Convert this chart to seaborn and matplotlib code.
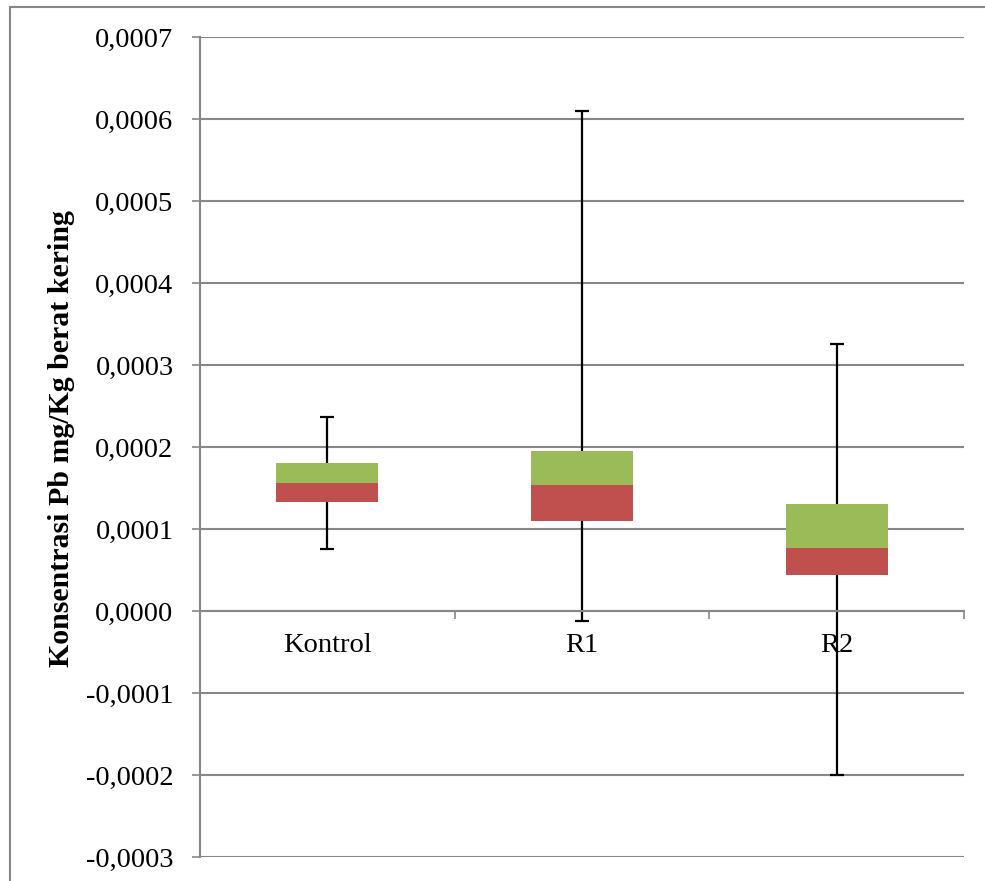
import matplotlib
matplotlib.use("Agg")
import matplotlib.pyplot as plt
from matplotlib.ticker import FuncFormatter, MultipleLocator, FixedLocator
from matplotlib.patches import Rectangle
import pandas as pd
import seaborn as sns

# ---------------------------------------------------------
# Data
# ---------------------------------------------------------
groups = ["Kontrol", "R1", "R2"]
whisker_min = [0.0000761, -0.0000122, -0.0002004]
q1 = [0.0001326, 0.0001098, 0.0000439]
median = [0.0001561, 0.0001537, 0.0000765]
q3 = [0.0001801, 0.0001947, 0.0001310]
whisker_max = [0.0002366, 0.0006098, 0.0003252]

df = pd.DataFrame({
    "group": groups,
    "q1": q1,
    "median": median,
    "q3": q3,
    "lo": whisker_min,
    "hi": whisker_max,
})
df["lower_box"] = df["median"] - df["q1"]
df["upper_box"] = df["q3"] - df["median"]

GREEN = "#9BBB59"
RED = "#C0504D"
GRID = "#878787"

sns.set_theme(style="white")
plt.rcParams["font.family"] = ["Liberation Serif", "DejaVu Serif"]

fig = plt.figure(figsize=(9.85, 8.81), dpi=100)
ax = fig.add_axes([200 / 985, 1 - 857 / 881, 764 / 985, 820 / 881])

# outer chart frame (cut off at right/bottom like the screenshot)
fig.patches.append(Rectangle((10 / 985, -0.5), 2.0, 1.5 - 7 / 881,
                             transform=fig.transFigure, fill=False,
                             edgecolor=GRID, linewidth=1.5, zorder=0))

# whiskers behind the boxes
x = list(range(len(groups)))
ax.errorbar(x, df["median"],
            yerr=[df["median"] - df["lo"], df["hi"] - df["median"]],
            fmt="none", ecolor="black", elinewidth=1.6, capsize=5,
            capthick=1.6, zorder=2)

# box segments: Q1 -> median (red), median -> Q3 (green)
sns.barplot(data=df, x="group", y="lower_box", color=RED, saturation=1,
            width=0.4, linewidth=0, ax=ax, zorder=3)
for patch, b in zip(ax.containers[-1], df["q1"]):
    patch.set_y(b)
sns.barplot(data=df, x="group", y="upper_box", color=GREEN, saturation=1,
            width=0.4, linewidth=0, ax=ax, zorder=3)
for patch, b in zip(ax.containers[-1], df["median"]):
    patch.set_y(b)

ax.set_xlim(-0.5, 2.5)
ax.set_ylim(-0.0003, 0.0007)

# horizontal gridlines
ax.yaxis.set_major_locator(MultipleLocator(0.0001))
ax.yaxis.set_major_formatter(FuncFormatter(lambda v, p: f"{v:.4f}".replace(".", ",")))
ax.grid(axis="y", color=GRID, linewidth=1.5)
ax.set_axisbelow(True)

for s in ["top", "right"]:
    ax.spines[s].set_visible(False)
ax.spines["left"].set_color(GRID)
ax.spines["left"].set_linewidth(1.5)
ax.spines["bottom"].set_position(("data", 0))
ax.spines["bottom"].set_color(GRID)
ax.spines["bottom"].set_linewidth(1.5)

ax.tick_params(axis="y", which="major", direction="out", length=6, width=1.2,
               color=GRID, labelsize=20.5, labelcolor="black", pad=13, left=True)
ax.tick_params(axis="x", which="major", length=0, labelsize=20.5,
               labelcolor="black", pad=16)
ax.xaxis.set_minor_locator(FixedLocator([0.5, 1.5, 2.5]))
ax.tick_params(axis="x", which="minor", direction="out", length=6, width=1.2,
               color=GRID, bottom=True)

ax.set_xlabel("")
ax.set_ylabel("Konsentrasi Pb mg/Kg berat kering", fontsize=21.5,
              fontweight="bold", color="black")
ax.yaxis.set_label_coords(-0.163, 0.51)

fig.savefig("out.png", dpi=100)
plt.close(fig)
